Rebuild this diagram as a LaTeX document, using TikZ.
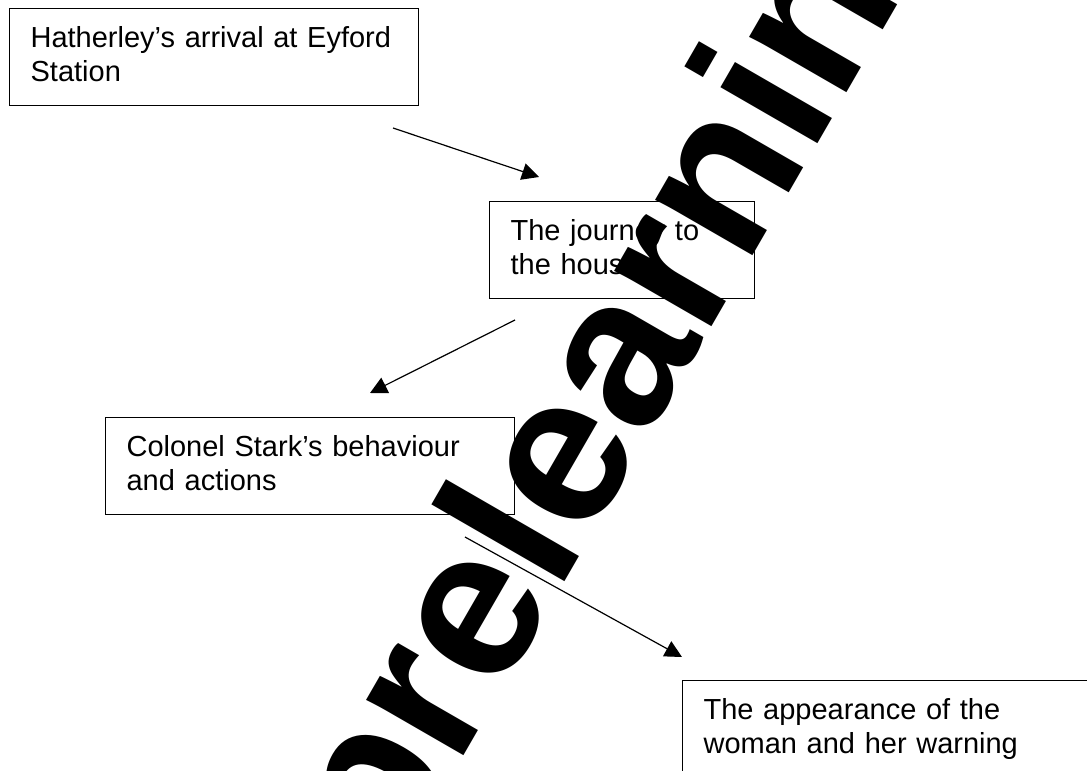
\documentclass[tikz,border=0pt]{standalone}
\usepackage{fontspec}
\setmainfont{Liberation Sans}
\newfontfamily\markfont{Liberation Sans}
\usetikzlibrary{arrows.meta}
\tikzset{
  event/.style={draw, line width=0.6pt, anchor=north west, minimum height=48.5pt,
    inner xsep=10.5pt, inner ysep=0pt, text height=10.5pt, text depth=20pt,
    align=left, font=\fontsize{14.5}{17}\selectfont},
  link/.style={line width=0.6pt, -{Triangle[length=8.5pt,width=8.5pt]}}
}
\begin{document}
\begin{tikzpicture}[x=0.5pt, y=-0.5pt]
  \useasboundingbox (0,0) rectangle (1087,771);
  \clip (0,0) rectangle (1087,771);
  \node[event, text width=183.5pt] (arrival) at (9,8) {Hatherley’s arrival at Eyford\\Station};
  \node[event, text width=111.5pt] (journey) at (489,201) {The journey to\\the house};
  \node[event, text width=183.5pt] (stark) at (105,417) {Colonel Stark’s behaviour\\and actions};
  \node[event, text width=220pt] (woman) at (682,680) {The appearance of the\\woman and her warning};
  \coordinate (arrivalout) at (393,128);
  \coordinate (journeyin) at (539,177);
  \coordinate (journeyout) at (515,320);
  \coordinate (starkin) at (370,393);
  \coordinate (starkout) at (465,537);
  \coordinate (womanin) at (682,657);
  \draw[link] (arrivalout) -- (journeyin);
  \draw[link] (journeyout) -- (starkin);
  \draw[link] (starkout) -- (womanin);
  \node[rotate=60, anchor=base west, inner sep=0pt,
    font=\markfont\bfseries\fontsize{106}{106}\selectfont] (mark) at (392,881) {prelearning};
\end{tikzpicture}
\end{document}
